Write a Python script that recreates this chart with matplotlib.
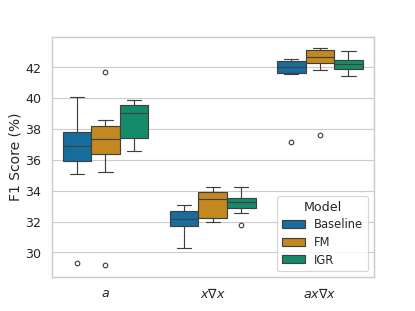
import matplotlib
matplotlib.use("Agg")
import matplotlib.pyplot as plt
import matplotlib.patches as mpatches
import seaborn as sns

# Box summary values: (whislo, q1, median, q3, whishi, fliers)
groups = [r"$a$", r"$x\nabla x$", r"$ax\nabla x$"]
models = ["Baseline", "FM", "IGR"]

baseline = [
    (35.11, 35.94, 36.93, 37.79, 40.10, [29.29]),
    (30.30, 31.71, 32.16, 32.68, 33.07, []),
    (41.57, 41.63, 42.04, 42.41, 42.56, [37.18]),
]
fm = [
    (35.24, 36.37, 37.34, 38.18, 38.61, [41.68, 29.16]),
    (31.97, 32.20, 33.46, 33.91, 34.21, []),
    (41.81, 42.30, 42.67, 43.10, 43.27, [37.60]),
]
igr = [
    (36.56, 37.42, 39.02, 39.54, 39.90, []),
    (32.55, 32.89, 33.24, 33.52, 34.21, [31.79]),
    (41.42, 41.87, 42.19, 42.49, 43.07, []),
]

sns.set_theme(style="whitegrid", context="notebook")
colors = [sns.desaturate(c, 0.75) for c in sns.color_palette("colorblind", 3)]
linecol = "#3f3f3f"

fig, ax = plt.subplots(figsize=(5, 3.75), dpi=83)

width = 0.8 / len(models)
for k, series in enumerate([baseline, fm, igr]):
    stats = []
    pos = []
    for g, (lo, q1, med, q3, hi, fl) in enumerate(series):
        stats.append(dict(whislo=lo, q1=q1, med=med, q3=q3, whishi=hi, fliers=fl))
        pos.append(g + (k - 1) * width)
    ax.bxp(stats, positions=pos, widths=width, patch_artist=True,
           showfliers=True, manage_ticks=False,
           boxprops=dict(facecolor=colors[k], edgecolor=linecol, linewidth=1),
           medianprops=dict(color=linecol, linewidth=1),
           whiskerprops=dict(color=linecol, linewidth=1),
           capprops=dict(color=linecol, linewidth=1),
           capwidths=width / 2,
           flierprops=dict(marker="o", markersize=4, markerfacecolor="none",
                           markeredgecolor=linecol, markeredgewidth=1))

ax.set_xlim(-0.5, 2.5)
ax.set_xticks(range(len(groups)))
ax.set_xticklabels(groups)
ax.tick_params(axis="x", pad=3)
ax.set_ylim(28.42, 43.96)
ax.set_yticks([30, 32, 34, 36, 38, 40, 42])
ax.set_ylabel("F1 Score (%)", labelpad=2)
ax.xaxis.grid(False)

handles = [mpatches.Patch(facecolor=colors[k], edgecolor=linecol, linewidth=1, label=m)
           for k, m in enumerate(models)]
ax.legend(handles=handles, title="Model", loc="lower right",
          fontsize=10, title_fontsize=11, labelspacing=0.4)

fig.savefig("out.png", dpi=83)
